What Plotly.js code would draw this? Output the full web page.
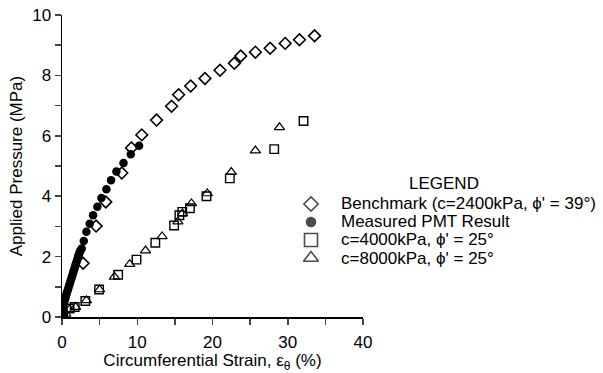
<!DOCTYPE html>
<html>
<head>
<meta charset="utf-8">
<script src="https://cdn.plot.ly/plotly-3.0.1.min.js"></script>
<style>html,body{margin:0;padding:0;background:#fff;}#chart{width:603px;height:373px;}</style>
</head>
<body>
<div id="chart"></div>
<script>
// Benchmark (c=2400kPa, phi'=39°)
const benchX = [0.0, 2.8, 4.53, 5.82, 7.95, 9.23, 10.6, 12.56, 14.56, 15.5, 17.1, 19.0, 21.0, 22.9, 23.75, 25.7, 27.66, 29.66, 31.56, 33.56];
const benchY = [0.0, 1.78, 3.01, 3.81, 4.77, 5.60, 6.03, 6.52, 6.98, 7.36, 7.65, 7.90, 8.17, 8.40, 8.64, 8.77, 8.90, 9.06, 9.18, 9.31];

// Measured PMT result
const measX = [0.0, 0.05, 0.1, 0.18, 0.27, 0.36, 0.45, 0.55, 0.65, 0.75, 0.85, 0.95, 1.05, 1.15, 1.25, 1.35, 1.45, 1.55, 1.65, 1.75, 1.85, 1.95, 2.05, 2.15, 2.25, 2.35, 2.45, 2.62, 2.89, 3.24, 3.68, 4.13, 4.7, 5.24, 5.9, 6.52, 7.23, 8.17, 9.14, 10.25];
const measY = [0.0, 0.12, 0.25, 0.35, 0.45, 0.55, 0.63, 0.72, 0.8, 0.88, 0.96, 1.04, 1.12, 1.2, 1.28, 1.36, 1.44, 1.52, 1.6, 1.68, 1.76, 1.84, 1.92, 2.0, 2.07, 2.14, 2.2, 2.27, 2.52, 2.82, 3.09, 3.37, 3.65, 3.94, 4.23, 4.53, 4.82, 5.10, 5.39, 5.67];

// c=4000kPa, phi'=25°
const sq4000X = [0.0, 0.13, 1.0, 1.69, 3.1, 4.93, 7.46, 9.9, 12.4, 14.9, 15.6, 15.98, 17.0, 19.2, 22.3, 28.2, 32.1];
const sq4000Y = [0.0, 0.11, 0.28, 0.33, 0.53, 0.91, 1.40, 1.90, 2.46, 3.03, 3.37, 3.48, 3.60, 4.00, 4.59, 5.56, 6.49];

// c=8000kPa, phi'=25°
const tri8000X = [0.0, 0.5, 1.0, 1.8, 3.24, 5.0, 6.97, 9.0, 11.1, 13.3, 15.4, 16.0, 17.2, 19.3, 22.5, 25.7, 28.9];
const tri8000Y = [0.0, 0.1, 0.25, 0.33, 0.55, 0.91, 1.33, 1.75, 2.20, 2.67, 3.16, 3.43, 3.76, 4.09, 4.80, 5.51, 6.28];

// Legend content
const names = ["Benchmark (c=2400kPa, \u03d5' = 39\u00b0)", "Measured PMT Result", "c=4000kPa, \u03d5' = 25\u00b0", "c=8000kPa, \u03d5' = 25\u00b0"];
const legendRows = [0, 1, 2, 3];
const legendSymbols = ['diamond-open', 'circle', 'square-open', 'triangle-up-open'];
const legendSizes = [11, 9, 13, 13];
const legendTitle = 'LEGEND';

// Axis ticks
const xTicks = [0, 5, 10, 15, 20, 25, 30, 35, 40];
const xTickText = ["0", "", "10", "", "20", "", "30", "", "40"];
const yTicks = [0, 1, 2, 3, 4, 5, 6, 7, 8, 9, 10];
const yTickText = ["0", "", "2", "", "4", "", "6", "", "8", "", "10"];

const FONT = "Liberation Sans, Arial, sans-serif";
const W = 603, H = 373, ML = 62, MR = 5, MT = 15, MB = 56;
const PW = W - ML - MR, PH = H - MT - MB;
const px2x = p => (p - ML) / PW;
const py2y = p => (H - MB - p) / PH;

const traces = [
  {x: benchX, y: benchY, name: names[0], mode: 'markers', type: 'scatter',
   marker: {symbol: 'diamond-open', size: 9, color: '#000', line: {width: 1.6, color: '#000'}}},
  {x: measX, y: measY, name: names[1], mode: 'markers', type: 'scatter',
   marker: {symbol: 'circle', size: 8.5, color: '#000'}},
  {x: sq4000X, y: sq4000Y, name: names[2], mode: 'markers', type: 'scatter',
   marker: {symbol: 'square-open', size: 8.5, color: '#000', line: {width: 1.4, color: '#000'}}},
  {x: tri8000X, y: tri8000Y, name: names[3], mode: 'markers', type: 'scatter',
   marker: {symbol: 'triangle-up-open', size: 9, color: '#000', line: {width: 1.2, color: '#000'}}},
  {x: legendRows.map(() => 0.5), y: legendRows, xaxis: 'x2', yaxis: 'y2', mode: 'markers', type: 'scatter',
   hoverinfo: 'skip', showlegend: false,
   marker: {symbol: legendSymbols, size: legendSizes, color: '#000', line: {width: 1.6, color: '#000'}}}
];

const legendAnn = names.map((n, i) => ({
  text: n, xref: 'paper', yref: 'y2', x: px2x(339), y: legendRows[i], xanchor: 'left', yanchor: 'middle',
  showarrow: false, font: {family: FONT, size: 17, color: '#000'}
}));
legendAnn.push({text: legendTitle, xref: 'paper', yref: 'paper', x: px2x(444), y: py2y(183), xanchor: 'center', yanchor: 'middle',
  showarrow: false, font: {family: FONT, size: 17, color: '#000'}});

const layout = {
  width: W, height: H,
  margin: {l: ML, r: MR, t: MT, b: MB},
  paper_bgcolor: '#fff', plot_bgcolor: 'rgba(0,0,0,0)',
  font: {family: FONT, size: 17, color: '#000'},
  showlegend: false,
  xaxis: {domain: [0, px2x(363)], range: [0, 40], tickvals: xTicks, ticktext: xTickText, ticks: 'outside', ticklen: 6, tickwidth: 1.5,
          showline: true, linecolor: '#000', linewidth: 1.5, showgrid: false, zeroline: false, ticklabelstandoff: 3,
          tickfont: {family: FONT, size: 17, color: '#000'},
          title: {text: 'Circumferential Strain, \u03b5<sub>\u03b8</sub> (%)', font: {family: FONT, size: 17, color: '#000'}, standoff: 7}},
  yaxis: {range: [0, 10], tickvals: yTicks, ticktext: yTickText, ticks: 'outside', ticklen: 6, tickwidth: 1.5,
          showline: true, linecolor: '#000', linewidth: 1.5, showgrid: false, zeroline: false,
          tickfont: {family: FONT, size: 17, color: '#000'},
          title: {text: 'Applied Pressure (MPa)', font: {family: FONT, size: 17, color: '#000'}, standoff: 5}},
  xaxis2: {domain: [px2x(301), px2x(321)], range: [0, 1], visible: false, fixedrange: true, anchor: 'y2'},
  yaxis2: {domain: [py2y(267), py2y(195)], range: [3.5, -0.5], visible: false, fixedrange: true, anchor: 'x2'},
  annotations: legendAnn
};

Plotly.newPlot('chart', traces, layout, {displayModeBar: false, staticPlot: true});
</script>
</body>
</html>
